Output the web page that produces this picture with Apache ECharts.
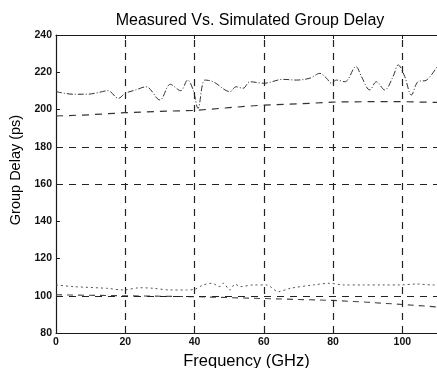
<!DOCTYPE html>
<html>
<head>
<meta charset="utf-8">
<script src="https://cdn.jsdelivr.net/npm/echarts@6/dist/echarts.min.js"></script>
<style>html,body{margin:0;padding:0;background:#fff}#c{width:437px;height:368px}</style>
</head>
<body>
<div id="c"></div>
<script>
var titleText = 'Measured Vs. Simulated Group Delay';
var xName = 'Frequency (GHz)';
var yName = 'Group Delay (ps)';

var freqUpperMeas = [0,5,9,12,15,18,20,23,26,30,33,36,38,39.6,41,43,45.4,48.8,50.2,52,54,56,60,65.6,69.4,73.3,76.2,78.1,79.5,81,83.4,86.6,88.2,90.6,92.5,94.9,97.3,98.8,100.7,102.6,104.5,107,110];
var valUpperMeas = [209.6,208.2,208.2,209,210.1,206,208.7,210.5,212.2,205.1,213.5,210.1,215.8,210.5,200.6,215.8,214.9,210.5,209.6,212.2,211.4,214.9,214.1,216.2,215.8,216.8,219.4,216.8,214.1,215.8,214.9,223,217.6,210.5,214.9,210.5,217.6,223.9,217.6,207.8,214.9,215.8,223];

var freqUpperSim = [0,10,20,30,40,50,60,70,80,90,100,110];
var valUpperSim = [196.5,197.2,198.3,199,199.5,201,202.4,203,204,204.2,204.2,203.8];

var freqLowerMeas = [0,5,14.6,19.4,24.3,28.1,32.9,37.7,40.1,42.5,45,47.3,48.3,50.2,51.7,53.1,57,60.8,64.2,67.6,74.3,79.1,82.9,88.7,94.4,99.3,104.1,108.9,110];
var valLowerMeas = [105.8,104.9,104,103.1,104.3,104,103.1,103.1,103.5,105.8,106.7,104.9,106.7,103.1,106.3,104.9,105.8,105.8,102.2,104,105.8,106.7,105.8,105.8,105.8,105.8,106.3,105.8,105.8];

var freqLowerSim = [0,20,40,60,70,80,90,100,110];
var valLowerSim = [100.5,100,99.5,98.5,98,97.5,96.5,95.3,94];

var xGridLines = [20,40,60,80,100];
var yGridLines = [100,160,180];

function pairs(xs, ys){ return xs.map(function(x,i){ return [x, ys[i]]; }); }

var chart = echarts.init(document.getElementById('c'), null, {renderer:'canvas'});
var ink = '#1a1a1a';
var fontFam = '"Liberation Sans", Arial, Helvetica, sans-serif';

var gridMarks = [];
xGridLines.forEach(function(v){ gridMarks.push({xAxis: v}); });
yGridLines.forEach(function(v){ gridMarks.push({yAxis: v}); });

chart.setOption({
  animation: false,
  backgroundColor: '#fff',
  title: {
    text: titleText, left: 245, top: 8, textAlign: 'center',
    textStyle: {fontFamily: fontFam, fontSize: 16, fontWeight: 'normal', color: '#000'}
  },
  grid: {left: 56, top: 35, right: 0, bottom: 35, containLabel: false, outerBoundsMode: 'none'},
  xAxis: [{
    type: 'value', min: 0, max: 110, interval: 20, position: 'bottom',
    name: xName, nameLocation: 'middle', nameGap: 19,
    nameTextStyle: {fontFamily: fontFam, fontSize: 16.5, color: '#000'},
    axisLine: {show: true, onZero: false, lineStyle: {color: ink, width: 1.2}},
    axisTick: {show: true, inside: true, length: 4, lineStyle: {color: ink}},
    axisLabel: {showMaxLabel: false, fontFamily: fontFam, fontSize: 10.5, fontWeight: 'bold', color: '#111', margin: 4},
    splitLine: {show: false}
  }, {
    type: 'value', min: 0, max: 110, interval: 20, position: 'top',
    axisLine: {show: true, onZero: false, lineStyle: {color: ink, width: 1.2}},
    axisTick: {show: true, inside: true, length: 4, lineStyle: {color: ink}},
    axisLabel: {show: false}, splitLine: {show: false}
  }],
  yAxis: {
    type: 'value', min: 80, max: 240, interval: 20,
    name: yName, nameLocation: 'middle', nameGap: 32, nameRotate: 90,
    nameTextStyle: {fontFamily: fontFam, fontSize: 14.5, color: '#000', padding: [0,0,0,28]},
    axisLine: {show: true, lineStyle: {color: ink, width: 1.2}},
    axisTick: {show: true, inside: true, length: 4, lineStyle: {color: ink}},
    axisLabel: {fontFamily: fontFam, fontSize: 10.5, fontWeight: 'bold', color: '#111', margin: 4},
    splitLine: {show: false}
  },
  series: [{
    name: 'Upper measured', type: 'line', data: pairs(freqUpperMeas, valUpperMeas),
    showSymbol: false, smooth: 0.35,
    lineStyle: {color: '#333', width: 1, type: [6,2,1,2]},
    markLine: {
      silent: true, symbol: ['none','none'], label: {show: false},
      lineStyle: {color: '#222', width: 1.2, type: [7,6]},
      data: gridMarks
    }
  }, {
    name: 'Upper simulated', type: 'line', data: pairs(freqUpperSim, valUpperSim),
    showSymbol: false,
    lineStyle: {color: '#333', width: 1.2, type: [7,6]}
  }, {
    name: 'Lower measured', type: 'line', data: pairs(freqLowerMeas, valLowerMeas),
    showSymbol: false, smooth: 0.3,
    lineStyle: {color: '#555', width: 1, type: [2,3]}
  }, {
    name: 'Lower simulated', type: 'line', data: pairs(freqLowerSim, valLowerSim),
    showSymbol: false,
    lineStyle: {color: '#444', width: 1.1, type: [6,5]}
  }]
});
</script>
</body>
</html>
